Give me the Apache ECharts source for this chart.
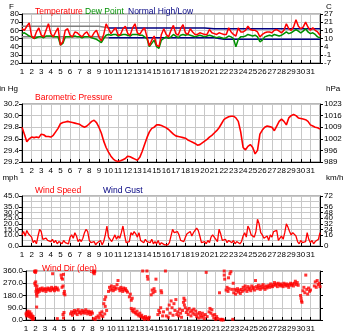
<!DOCTYPE html>
<html>
<head>
<meta charset="utf-8">
<script src="https://cdn.jsdelivr.net/npm/echarts@6/dist/echarts.min.js"></script>
<style>
  html, body { margin: 0; padding: 0; background: #ffffff; }
  #chart { width: 350px; height: 336px; }
</style>
</head>
<body>
<div id="chart"></div>
<script>
// Monthly weather summary: temperature, pressure, wind speed and wind direction,
// four stacked panels sharing a day-of-month axis.

const dayLabels = ['1','2','3','4','5','6','7','8','9','10','11','12','13','14','15','16',
  '17','18','19','20','21','22','23','24','25','26','27','28','29','30','31'];

// Temperature panel ticks (F on the left, C on the right)
const tempTicksF = ['20', '30', '40', '50', '60', '70', '80'];
const tempTicksC = ['-7', '-1', '4', '10', '16', '21', '27'];
// Pressure panel ticks (inHg left, hPa right)
const pressTicksIn = ['29.2', '29.4', '29.6', '29.8', '30.0', '30.2'];
const pressTicksHpa = ['989', '996', '1002', '1009', '1016', '1023'];
// Wind speed ticks (mph left, km/h right)
const windTicksMph = ['0.0', '5.0', '10.0', '15.0', '20.0', '25.0', '30.0', '35.0', '40.0', '45.0'];
const windTicksKmh = ['0', '8', '16', '24', '32', '40', '48', '56', '64', '72'];
// Wind direction ticks
const dirTicks = ['0.0', '90.0', '180.0', '270.0', '360.0'];

// Temperature, F, four readings per day (00, 06, 12, 18 h)
const temperature = [
  62, 60, 65, 69,   53, 50, 58, 63,   54, 52, 60, 68,   56, 52, 58, 63,
  42, 46, 60, 62,   54, 52, 58, 57,   54, 52, 56, 58,   53, 52, 57, 60,
  52, 47, 55, 68,   62, 56, 60, 63,   54, 55, 62, 65,   56, 54, 63, 68,
  57, 55, 60, 63,   52, 41, 48, 53,   42, 40, 55, 62,   55, 52, 60, 66,
  56, 54, 62, 67,   57, 55, 62, 58,   55, 55, 57, 56,   55, 55, 61, 57,
  56, 55, 57, 56,   55, 55, 63, 58,   55, 53, 63, 58,   58, 60, 65, 61,
  60, 60, 58, 52,   55, 57, 58, 58,   57, 60, 61, 59,   57, 60, 68, 62,
  60, 64, 73, 65,   62, 64, 70, 64,   60, 63, 60, 58,   54
];

// Dew point, F, same sampling as temperature
const dewPoint = [
  56, 57, 55, 53,   52, 50, 51, 52,   52, 51, 53, 53,   53, 52, 52, 52,
  42, 44, 52, 52,   52, 52, 53, 52,   52, 51, 52, 52,   52, 51, 50, 49,
  47, 45, 50, 54,   55, 54, 55, 55,   53, 54, 55, 55,   54, 53, 55, 55,
  55, 54, 54, 52,   50, 40, 44, 48,   40, 38, 48, 50,   52, 50, 52, 55,
  53, 51, 54, 55,   54, 55, 54, 53,   52, 53, 54, 53,   52, 53, 54, 53,
  52, 51, 52, 51,   50, 51, 53, 52,   50, 40, 49, 52,   52, 53, 55, 54,
  53, 54, 52, 46,   48, 52, 53, 54,   53, 55, 54, 53,   54, 56, 58, 56,
  57, 59, 61, 59,   57, 59, 62, 58,   56, 57, 55, 52,   51
];

// Normal high / low, F, one value per day (day 1 .. 32)
const normalHigh = [65, 65, 65, 65, 65, 65, 65, 65, 65, 63, 63, 63, 63, 63, 63, 63,
  63, 63, 63, 63, 62, 62, 62, 62, 62, 62, 62, 62, 62, 62, 62, 62];
const normalLow = [52, 52, 52, 52, 52, 52, 52, 52, 52, 51, 51, 51, 51, 51, 51, 51,
  51, 51, 51, 51, 51, 49, 49, 49, 49, 49, 49, 49, 49, 49, 49, 49];
// Days before this one show the normals from the previous period (drawn grey)
const normalsSplitDay = 10;

// Barometric pressure, inHg, four readings per day
const pressure = [
  29.80, 29.68, 29.55, 29.60,  29.63, 29.62, 29.63, 29.62,  29.68, 29.67, 29.64, 29.64,
  29.63, 29.66, 29.72, 29.78,  29.86, 29.88, 29.89, 29.90,  29.89, 29.88, 29.87, 29.86,
  29.85, 29.82, 29.80, 29.82,  29.86, 29.90, 29.92, 29.88,  29.80, 29.70, 29.56, 29.45,
  29.37, 29.30, 29.25, 29.22,  29.21, 29.22, 29.24, 29.26,  29.30, 29.29, 29.27, 29.25,
  29.23, 29.28, 29.38, 29.50,  29.62, 29.72, 29.78, 29.80,  29.84, 29.84, 29.83, 29.81,
  29.79, 29.76, 29.72, 29.68,  29.65, 29.64, 29.63, 29.62,  29.61, 29.58, 29.56, 29.54,
  29.52, 29.49, 29.50, 29.53,  29.56, 29.59, 29.63, 29.66,  29.70, 29.74, 29.79, 29.86,
  29.93, 29.96, 29.98, 29.99,  29.99, 29.96, 29.90, 29.72,  29.45, 29.41, 29.47, 29.50,
  29.45, 29.34, 29.40, 29.68,  29.75, 29.80, 29.82, 29.81,  29.80, 29.74, 29.82, 29.90,
  29.94, 29.90, 29.84, 29.96,  30.00, 30.02, 30.00, 29.96,  29.95, 29.94, 29.93, 29.90,
  29.84, 29.82, 29.80, 29.79,  29.77
];

// Wind speed, mph, six readings per day
const windSpeed = [
  10, 13, 9, 14, 11, 12,   8, 3, 5, 2, 9, 15,    13, 6, 5, 7, 5, 6,     4, 6, 3, 5, 2, 4,
  3, 2, 5, 3, 4, 2,        8, 10, 7, 12, 9, 4,   6, 4, 7, 12, 15, 13,   5, 3, 2, 4, 1, 3,
  2, 5, 1, 4, 10, 18,      8, 6, 4, 7, 10, 6,    9, 7, 12, 18, 10, 3,   2, 4, 12, 10, 13, 11,
  8, 12, 5, 4, 3, 6,       4, 5, 3, 6, 2, 4,     2, 5, 1, 3, 2, 1,      2, 1, 3, 2, 15, 12,
  12, 13, 10, 5, 6, 4,     8, 11, 10, 13, 9, 12, 11, 16, 14, 9, 3, 2,   4, 2, 5, 3, 8, 10,
  9, 6, 4, 15, 11, 5,      4, 6, 3, 5, 4, 3,     5, 2, 4, 3, 2, 4,      9, 12, 8, 18, 15, 10,
  11, 8, 13, 24, 20, 12,   10, 7, 6, 9, 5, 10,   8, 13, 12, 14, 5, 7,   9, 6, 12, 20, 17, 13,
  10, 12, 11, 9, 4, 2,     5, 3, 2, 4, 12, 6,    3, 5, 2, 4, 3, 6,      12
];

// Wind direction observations: [day, degrees]
const windDir = [
  [1.0,45],[1.05,30],[1.1,55],[1.15,40],[1.2,65],[1.25,35],[1.3,50],[1.35,25],[1.4,60],[1.45,40],
  [1.5,20],[1.55,45],[1.6,15],[1.65,30],[1.7,5],[1.75,25],[1.8,10],
  [1.9,355],[1.95,360],[2.0,350],[2.05,360],[1.92,270],[1.98,255],[2.02,280],[2.05,210],[2.1,190],
  [2.1,230],[2.12,95],[2.15,250],[2.15,175],
  [2.2,215],[2.25,200],[2.3,225],[2.4,210],[2.5,230],[2.6,220],[2.7,235],[2.8,215],[2.9,225],[3.0,230],
  [3.1,210],[3.2,225],[3.3,235],[3.4,220],[3.5,230],[3.6,215],[3.7,240],[3.8,225],[3.8,340],[3.9,230],
  [4.0,215],[4.1,240],[4.2,225],[4.3,235],[4.4,220],
  [4.7,330],[4.75,310],[4.8,240],[4.85,300],[4.9,250],[4.95,335],[5.0,195],[5.05,210],[5.1,185],
  [4.9,40],[4.95,15],[5.0,55],[4.3,10],
  [5.7,45],[5.8,60],[5.9,35],[6.0,55],[6.1,70],[6.2,50],[6.3,65],[6.4,40],[6.5,75],[6.6,55],[6.7,60],
  [6.8,45],[6.9,70],[7.0,55],[7.1,65],[7.2,50],[7.3,75],[7.4,60],[7.5,45],[7.6,65],[7.7,55],[7.8,40],
  [7.9,60],[8.0,50],
  [8.1,350],[8.15,360],[8.2,340],[8.25,355],[8.1,10],[8.3,5],[8.4,20],
  [8.6,30],[8.7,15],[8.8,50],[8.9,35],[9.0,60],[9.1,25],[9.2,120],[9.3,150],[9.35,100],[9.4,170],
  [9.3,45],[9.5,70],
  [9.7,210],[9.8,240],[9.9,220],[10.0,250],[10.1,230],[10.2,215],[10.3,245],[10.4,225],[10.5,235],
  [10.6,260],[10.7,290],[10.8,230],[10.9,215],[11.0,240],[11.1,225],[11.2,210],[11.3,235],[11.4,220],
  [11.5,230],[11.6,215],[11.7,205],
  [11.9,170],[12.0,190],[12.1,145],[12.2,160],
  [12.1,85],[12.2,70],[12.3,60],[12.4,80],[12.5,55],[12.6,45],[12.7,65],[12.8,40],[12.9,30],[13.0,50],
  [13.1,25],[13.2,35],[13.3,15],[13.4,20],[13.5,5],[13.6,25],[13.7,10],[13.8,15],[13.9,5],[14.0,20],
  [13.3,360],[13.75,360],[13.8,320],[13.85,300],
  [14.2,185],[14.3,220],[14.4,200],[14.5,230],[14.6,210],[14.7,300],
  [14.9,40],[15.0,70],[15.1,55],[15.2,90],[15.25,215],[15.3,200],[15.4,30],[15.5,60],[15.7,360],
  [15.8,30],[15.9,80],[16.0,20],[16.1,110],[16.2,50],[16.3,140],[16.4,90],[16.5,35],[16.6,120],
  [16.7,70],[16.8,150],
  [16.9,40],[17.0,60],[17.1,30],[17.2,80],[17.3,50],[17.4,20],[17.5,70],[17.6,130],[17.65,160],
  [17.7,110],[17.75,145],[17.8,90],[17.9,55],[18.0,75],[18.1,40],[18.2,85],[18.3,60],[18.4,30],
  [18.5,70],[18.6,50],[18.7,80],[18.8,40],[18.9,65],[19.0,25],
  [19.1,45],[19.2,15],[19.3,55],[19.4,35],[19.5,20],[19.6,50],[19.7,30],[19.8,10],[19.9,40],[20.0,350],
  [20.1,25],
  [20.3,60],[20.4,85],[20.5,50],[20.6,75],[20.7,35],[20.8,15],[20.9,40],[21.0,5],[21.1,25],[21.2,10],
  [21.4,200],[21.5,5],[21.6,0],[21.7,5],[21.8,0],[21.9,360],[21.9,330],[21.95,300],
  [22.1,220],[22.2,240],[22.3,210],[22.35,310],[22.4,230],[22.5,340],[22.6,355],[22.7,225],[22.8,5],
  [22.85,270],
  [22.9,200],[23.0,225],[23.1,190],[23.2,215],[23.3,230],[23.4,205],[23.5,220],[23.6,195],[23.7,225],
  [23.8,210],
  [23.9,240],[24.0,220],[24.1,250],[24.2,230],[24.3,210],[24.4,245],[24.5,225],[24.6,235],[24.7,215],
  [24.8,250],[24.9,230],[25.0,240],[25.1,220],[25.2,290],[25.3,245],[25.4,230],[25.5,255],[25.6,240],
  [25.7,225],[25.8,250],[25.9,235],[26.0,260],[26.1,240],[26.2,225],[26.3,250],[26.4,235],[26.5,245],
  [26.6,255],[26.7,240],[26.8,265],[26.9,250],[27.0,245],[27.1,260],[27.2,275],[27.3,255],[27.4,265],
  [27.5,245],[27.6,270],[27.7,260],[27.8,250],[27.9,265],[28.0,255],[28.1,245],[28.2,270],[28.3,260],
  [28.4,250],[28.5,265],[28.6,255],[28.7,240],[28.8,260],[28.9,270],[29.0,255],[29.1,265],[29.2,250],
  [29.3,270],[29.4,285],[29.5,260],[29.6,275],[29.7,255],
  [29.95,180],[30.0,160],[30.05,140],[30.1,130],[30.2,215],[30.3,240],[30.4,200],[30.5,330],[30.6,225],
  [30.7,190],[30.8,235],[30.9,210],[31.0,220],
  [31.4,250],[31.5,280],[31.6,240],[31.7,290],[31.8,260],[31.9,270],[32.0,245]
];

// Pair regularly sampled readings with their time in days
const timed = (vals, perDay) => vals.map((v, i) => [1 + i / perDay, v]);
const daily = (vals) => vals.map((v, i) => [1 + i, v]);
const before = (pts, day) => pts.filter(p => p[0] <= day);
const after = (pts, day) => pts.filter(p => p[0] >= day);

const FONT = '"Liberation Sans", Arial, sans-serif';
const RED = '#ff0000', GREEN = '#009000', NAVY = '#000080', GREY = '#808080';
const GRID_COLOR = '#c8c8c8';

const grids = [
  { left: 22, right: 30, top: 14, height: 49 },
  { left: 22, right: 30, top: 104, height: 58 },
  { left: 22, right: 30, top: 196, height: 50 },
  { left: 22, right: 30, top: 271, height: 49 }
].map(g => Object.assign({ show: true, borderColor: '#707070', borderWidth: 1, containLabel: false }, g));

const labelStyle = { fontSize: 8, color: '#000', fontFamily: FONT };

function xAxisFor(gridIndex) {
  return {
    type: 'value', gridIndex, min: 1, max: 32, interval: 1,
    axisLine: { show: true, onZero: false, lineStyle: { color: '#000', width: 1 } },
    axisTick: { show: true, inside: true, length: 3, lineStyle: { color: '#000' } },
    axisLabel: Object.assign({ margin: 5, hideOverlap: false,
      formatter: v => (v <= 31 ? dayLabels[v - 1] : '') }, labelStyle),
    splitLine: { show: true, lineStyle: { color: GRID_COLOR, width: 1 } }
  };
}

function tickIndex(v, min, step) { return Math.round((v - min) / step); }

function yAxisPair(gridIndex, min, max, step, leftLabels, rightLabels) {
  const common = {
    type: 'value', gridIndex, min, max, interval: step,
    axisLine: { show: true, onZero: false, lineStyle: { color: '#000' } },
    axisTick: { show: true, length: 3, lineStyle: { color: '#000' } }
  };
  const left = Object.assign({}, common, {
    position: 'left',
    axisLabel: Object.assign({ margin: 3, showMinLabel: true, showMaxLabel: true, hideOverlap: false,
      formatter: v => leftLabels[tickIndex(v, min, step)] }, labelStyle),
    splitLine: { show: true, lineStyle: { color: GRID_COLOR, width: 1 } }
  });
  const right = Object.assign({}, common, {
    position: 'right',
    axisLabel: Object.assign({ show: !!rightLabels, margin: 4, showMinLabel: true, showMaxLabel: true,
      hideOverlap: false,
      formatter: v => (rightLabels ? rightLabels[tickIndex(v, min, step)] : '') }, labelStyle),
    splitLine: { show: false }
  });
  return [left, right];
}

const yAxes = [].concat(
  yAxisPair(0, 20, 80, 10, tempTicksF, tempTicksC),
  yAxisPair(1, 29.2, 30.2, 0.2, pressTicksIn, pressTicksHpa),
  yAxisPair(2, 0, 45, 5, windTicksMph, windTicksKmh),
  yAxisPair(3, 0, 360, 90, dirTicks, null)
);

const titleStyle = (color) => ({ color, fontSize: 8.5, fontWeight: 'normal', fontFamily: FONT });
const titles = [
  { text: 'Temperature', left: 35, top: 7, textStyle: titleStyle(RED) },
  { text: 'Dew Point', left: 85, top: 7, textStyle: titleStyle(GREEN) },
  { text: 'Normal High/Low', left: 128, top: 7, textStyle: titleStyle(NAVY) },
  { text: 'Barometric Pressure', left: 35, top: 93, textStyle: titleStyle(RED) },
  { text: 'Wind Speed', left: 35, top: 186, textStyle: titleStyle(RED) },
  { text: 'Wind Gust', left: 103, top: 186, textStyle: titleStyle(NAVY) },
  { text: 'Wind Dir (deg)', left: 42, top: 264, textStyle: titleStyle(RED) }
].map(t => Object.assign({ padding: 0, itemGap: 0 }, t));

const unitText = (text, x, y, align) => ({
  type: 'text', x, y,
  style: { text, fill: '#000', font: '8px ' + FONT, textAlign: align, textVerticalAlign: 'middle' }
});

const lineSeries = (name, data, xi, yi, color, width, z) => ({
  name, type: 'line', xAxisIndex: xi, yAxisIndex: yi, data, z: z || 2,
  symbol: 'none', smooth: false, animation: false,
  lineStyle: { color, width }, itemStyle: { color }
});

const highPts = daily(normalHigh), lowPts = daily(normalLow);

const option = {
  animation: false,
  backgroundColor: '#ffffff',
  title: titles,
  grid: grids,
  xAxis: [xAxisFor(0), xAxisFor(1), xAxisFor(2), xAxisFor(3)],
  yAxis: yAxes,
  graphic: [
    unitText('F', 14, 7, 'right'),
    unitText('C', 326, 7, 'left'),
    unitText('in Hg', 18, 89, 'right'),
    unitText('hPa', 326, 89, 'left'),
    unitText('mph', 18, 178, 'right'),
    unitText('km/h', 326, 178, 'left')
  ],
  series: [
    lineSeries('Normal High (prev)', before(highPts, normalsSplitDay), 0, 0, GREY, 1.5),
    lineSeries('Normal Low (prev)', before(lowPts, normalsSplitDay), 0, 0, GREY, 1.5),
    lineSeries('Normal High', after(highPts, normalsSplitDay), 0, 0, NAVY, 1.5),
    lineSeries('Normal Low', after(lowPts, normalsSplitDay), 0, 0, NAVY, 1.5),
    lineSeries('Dew Point', timed(dewPoint, 4), 0, 0, GREEN, 1.5, 3),
    lineSeries('Temperature', timed(temperature, 4), 0, 0, RED, 1.5, 4),
    lineSeries('Barometric Pressure', timed(pressure, 4), 1, 2, RED, 1.6),
    lineSeries('Wind Speed', timed(windSpeed, 6), 2, 4, RED, 1.3),
    {
      name: 'Wind Dir', type: 'scatter', xAxisIndex: 3, yAxisIndex: 6, data: windDir,
      symbol: 'rect', symbolSize: 3, animation: false, itemStyle: { color: RED }
    }
  ]
};

const chart = echarts.init(document.getElementById('chart'), null, { renderer: 'canvas' });
chart.setOption(option);
</script>
</body>
</html>
